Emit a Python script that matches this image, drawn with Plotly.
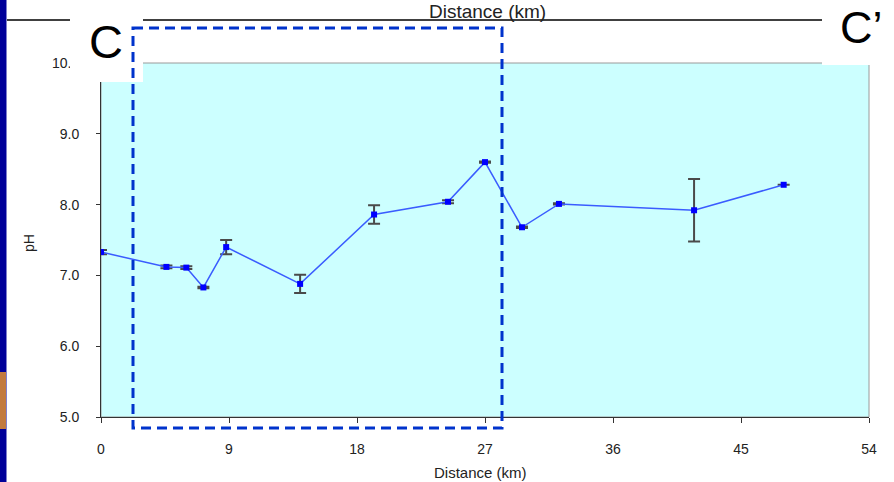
import plotly.graph_objects as go

# ---- data ----
distance_km = [0.0, 4.6, 6.0, 7.2, 8.8, 14.0, 19.2, 24.4, 27.0, 29.6, 32.2, 41.7, 48.0]
ph_values = [7.33, 7.12, 7.11, 6.83, 7.40, 6.88, 7.86, 8.04, 8.60, 7.68, 8.01, 7.92, 8.28]
ph_error = [0.03, 0.02, 0.02, 0.01, 0.10, 0.13, 0.13, 0.02, 0.01, 0.01, 0.01, 0.44, 0.0]
x_ticks = [0, 9, 18, 27, 36, 45, 54]
y_ticks = [5, 6, 7, 8, 9, 10]
y_tick_labels = ["5.0", "6.0", "7.0", "8.0", "9.0", "10.0"]

W, H = 894, 482
L, R, T, B = 101, 25, 63, 65
PW, PH = W - L - R, H - T - B


def px(xp):
    return (xp - L) / PW


def py(yp):
    return (H - B - yp) / PH


fig = go.Figure()
fig.add_trace(go.Scatter(
    x=distance_km, y=ph_values, mode="lines+markers",
    line=dict(color="#3a5cff", width=1.5),
    marker=dict(symbol="square", size=6, color="#0000ff"),
    error_y=dict(type="data", array=ph_error, visible=True,
                 color="#4a4a4a", thickness=2, width=6),
    showlegend=False,
))

shapes = []
# plot frame (gray)
shapes.append(dict(type="rect", xref="x domain", yref="y domain", x0=0, x1=1, y0=0, y1=1,
                   line=dict(color="#9a9a9a", width=1), layer="below"))
# left dark-blue strip
shapes.append(dict(type="rect", xref="paper", yref="paper", x0=px(0), x1=px(6.5), y0=py(0), y1=py(482),
                   fillcolor="#000099", line=dict(width=0), layer="above"))
shapes.append(dict(type="rect", xref="paper", yref="paper", x0=px(0), x1=px(6), y0=py(372), y1=py(429),
                   fillcolor="#c27a3e", line=dict(width=0), layer="above"))
# top horizontal line
shapes.append(dict(type="line", xref="paper", yref="paper", x0=px(7), x1=px(822), y0=py(20), y1=py(20),
                   line=dict(color="black", width=1.5), layer="above"))
# white boxes behind C and C'
shapes.append(dict(type="rect", xref="paper", yref="paper", x0=px(70), x1=px(143), y0=py(19), y1=py(82),
                   fillcolor="white", line=dict(width=0), layer="above"))
shapes.append(dict(type="rect", xref="paper", yref="paper", x0=px(822), x1=px(894), y0=py(0), y1=py(65),
                   fillcolor="white", line=dict(width=0), layer="above"))
# dashed selection rectangle
shapes.append(dict(type="rect", xref="paper", yref="paper", x0=px(133), x1=px(502), y0=py(28), y1=py(428),
                   line=dict(color="#0033cc", width=3, dash="10px,6px"), fillcolor="rgba(0,0,0,0)",
                   layer="above"))

annotations = [
    dict(text="pH", xref="paper", yref="paper", x=px(29), y=py(243), showarrow=False, textangle=-90,
         font=dict(size=14, color="#222"), xanchor="center", yanchor="middle"),
    dict(text="Distance (km)", xref="paper", yref="paper", x=px(480), y=py(472), showarrow=False,
         font=dict(size=15, color="#222"), xanchor="center", yanchor="middle"),
    dict(text="Distance (km)", xref="paper", yref="paper", x=px(487), y=py(11), showarrow=False,
         font=dict(size=19, color="#222"), xanchor="center", yanchor="middle"),
    dict(text="C", xref="paper", yref="paper", x=px(106), y=py(41), showarrow=False,
         font=dict(size=47, color="black"), xanchor="center", yanchor="middle"),
    dict(text="C’", xref="paper", yref="paper", x=px(861), y=py(27), showarrow=False,
         font=dict(size=45, color="black"), xanchor="center", yanchor="middle"),
]

fig.update_layout(
    width=W, height=H,
    margin=dict(l=L, r=R, t=T, b=B, pad=0),
    paper_bgcolor="white", plot_bgcolor="#ccffff",
    font=dict(family="Liberation Sans, Arial, sans-serif", size=14, color="#222"),
    shapes=shapes, annotations=annotations,
    xaxis=dict(range=[0, 54], tickvals=x_ticks, showgrid=False, zeroline=False,
               showline=True, linecolor="#333", linewidth=1, ticks="outside", ticklen=5,
               tickcolor="#333", ticklabelstandoff=14, tickfont=dict(size=14)),
    yaxis=dict(range=[5, 10], tickvals=y_ticks, ticktext=y_tick_labels, showgrid=False, zeroline=False,
               showline=True, linecolor="#333", linewidth=1, ticks="outside", ticklen=4,
               tickcolor="#333", ticklabelstandoff=14, tickfont=dict(size=14)),
)

fig.write_html("out.html")
